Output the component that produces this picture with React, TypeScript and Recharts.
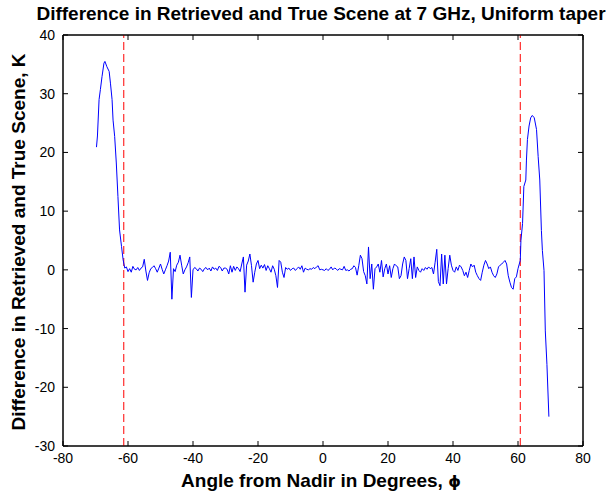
import React from 'react';
import { LineChart, Line, XAxis, YAxis, ReferenceLine, ReferenceArea } from 'recharts';

// [angle in degrees, difference in K]
const leftLobe: [number, number][] = [
  [-69.7, 20.9], [-69.4, 22.8], [-68.9, 29.0], [-68.5, 30.7], [-68.0, 32.9],
  [-67.4, 35.2], [-67.1, 35.5], [-66.5, 34.6], [-65.8, 33.8], [-65.4, 31.8],
  [-64.9, 29.0], [-64.6, 25.5], [-64.1, 22.7], [-63.6, 18.2], [-63.1, 12.5],
  [-62.6, 6.8], [-62.0, 4.0], [-61.5, 1.7],
];

const scanNoise: [number, number][] = [
  [-61.0, 0.3], [-60.5, 0.5], [-60.0, -0.3], [-59.5, 0.2], [-59.0, -0.4],
  [-58.5, 0.6], [-58.0, 0.1], [-57.5, 0.0], [-57.0, 0.4], [-56.5, -0.1],
  [-56.0, 0.3], [-55.5, 0.5], [-55.0, 1.8], [-54.5, -0.2], [-54.0, -1.8],
  [-53.5, -0.5], [-53.0, 0.2], [-52.5, 0.4], [-52.0, 0.7], [-51.5, 0.2],
  [-51.0, -0.4], [-50.5, 0.3], [-50.0, 1.0], [-49.5, 0.1], [-49.0, -0.7],
  [-48.5, 0.0], [-48.0, 0.7], [-47.5, 1.5], [-47.0, 3.0], [-46.5, -5.0],
  [-46.0, 0.2], [-45.5, -0.3], [-45.0, 0.8], [-44.5, 1.3], [-44.0, 2.5],
  [-43.5, 0.8], [-43.0, -0.7], [-42.5, 0.0], [-42.0, 0.5], [-41.5, 1.2],
  [-41.0, 2.2], [-40.5, -4.7], [-40.0, 0.0], [-39.5, 0.4], [-39.0, 0.2],
  [-38.5, -0.2], [-38.0, 0.3], [-37.5, 0.1], [-37.0, -0.3], [-36.5, 0.2],
  [-36.0, 0.4], [-35.5, 0.0], [-35.0, 0.3], [-34.5, -0.2], [-34.0, 0.5],
  [-33.5, 0.1], [-33.0, 0.3], [-32.5, -0.1], [-32.0, 0.6], [-31.5, 0.4],
  [-31.0, -0.2], [-30.5, 0.3], [-30.0, 0.3], [-29.5, 0.1], [-29.0, -0.7],
  [-28.5, 0.7], [-28.0, -0.4], [-27.5, 0.6], [-27.0, -0.1], [-26.5, 0.5],
  [-26.0, 0.2], [-25.5, -0.3], [-25.0, 1.0], [-24.5, 2.2], [-24.0, -3.8],
  [-23.5, 0.8], [-23.0, 1.5], [-22.5, 2.7], [-22.0, 0.7], [-21.5, -2.1],
  [-21.0, -0.4], [-20.5, 1.0], [-20.0, 1.6], [-19.5, 0.2], [-19.0, 0.8],
  [-18.5, 0.3], [-18.0, 0.9], [-17.5, -0.1], [-17.0, 0.7], [-16.5, 0.2],
  [-16.0, -0.4], [-15.5, 0.7], [-15.0, 0.1], [-14.5, -1.0], [-14.0, -3.0],
  [-13.5, 1.6], [-13.0, 1.3], [-12.5, -0.4], [-12.0, -1.3], [-11.5, 0.4],
  [-11.0, 0.1], [-10.5, 0.3], [-10.0, -0.1], [-9.5, 0.2], [-9.0, 0.3],
  [-8.5, -0.1], [-8.0, 0.2], [-7.5, 0.5], [-7.0, 0.1], [-6.5, 0.7],
  [-6.0, -0.4], [-5.5, 0.3], [-5.0, 0.1], [-4.5, 0.0], [-4.0, 0.2],
  [-3.5, 0.1], [-3.0, 0.4], [-2.5, 0.2], [-2.0, 0.5], [-1.5, 0.7],
  [-1.0, 0.0], [-0.5, 0.1], [0.0, 0.0], [0.5, -0.1], [1.0, 0.2],
  [1.5, -0.1], [2.0, 0.1], [2.5, 0.5], [3.0, 0.0], [3.5, 0.3],
  [4.0, 0.2], [4.5, -0.1], [5.0, 0.2], [5.5, 0.1], [6.0, 0.0],
  [6.5, 0.6], [7.0, -0.1], [7.5, 0.0], [8.0, -0.2], [8.5, 0.1],
  [9.0, 0.2], [9.5, 0.7], [10.0, 0.4], [10.5, -0.9], [11.0, 0.7],
  [11.5, 2.5], [12.0, 1.9], [12.5, -0.3], [13.0, -1.0], [13.5, -2.4],
  [14.0, 3.9], [14.5, -1.5], [15.0, 1.0], [15.5, -3.3], [16.0, 0.2],
  [16.5, 0.5], [17.0, 1.0], [17.5, -0.4], [18.0, 1.6], [18.5, -1.2],
  [19.0, 0.2], [19.5, 1.0], [20.0, -0.7], [20.5, 0.7], [21.0, -1.3],
  [21.5, 0.2], [22.0, 1.0], [22.5, 0.7], [23.0, 0.5], [23.5, -1.5],
  [24.0, -1.0], [24.5, 1.0], [25.0, 2.2], [25.5, 1.6], [26.0, -1.5],
  [26.5, 0.2], [27.0, 1.9], [27.5, -1.5], [28.0, 2.2], [28.5, -1.3],
  [29.0, 0.5], [29.5, -0.1], [30.0, -0.4], [30.5, 0.2], [31.0, -0.1],
  [31.5, 0.4], [32.0, 0.1], [32.5, 0.5], [33.0, 0.2], [33.5, 0.4],
  [34.0, -0.7], [34.5, 1.3], [35.0, 3.5], [35.5, -2.0], [36.0, -2.7],
  [36.5, 2.7], [37.0, -2.4], [37.5, 2.5], [38.0, -2.4], [38.5, 0.2],
  [39.0, 2.5], [39.5, 0.8], [40.0, -0.1], [40.5, -0.4], [41.0, 0.5],
  [41.5, -0.1], [42.0, 0.8], [42.5, 0.5], [43.0, -0.1], [43.5, -1.0],
  [44.0, -0.4], [44.5, -1.3], [45.0, -0.1], [45.5, 1.0], [46.0, 0.5],
  [46.5, 0.8], [47.0, -0.4], [47.5, -1.0], [48.0, -1.5], [48.5, -1.8],
  [49.0, -0.4], [49.5, 0.8], [50.0, 1.6], [50.5, 1.0], [51.0, 0.2],
  [51.5, 0.5], [52.0, -0.4], [52.5, -1.0], [53.0, -1.3], [53.5, -0.7],
  [54.0, 0.5], [54.5, 0.8], [55.0, 1.0], [55.5, 1.3], [56.0, 1.6],
  [56.5, 1.0], [57.0, -1.0], [57.5, -2.1], [58.0, -3.0], [58.5, -3.3],
  [59.0, -1.5], [59.5, -1.2], [60.0, 0.2],
];

const rightLobe: [number, number][] = [
  [60.7, 1.6], [60.9, 5.0], [61.4, 7.9], [61.8, 14.2], [62.4, 15.3],
  [62.6, 18.7], [62.9, 22.2], [63.4, 24.5], [63.9, 25.9], [64.4, 26.3],
  [65.0, 25.9], [65.7, 23.9], [66.2, 19.3], [66.7, 15.3], [67.2, 6.7],
  [67.5, 3.3], [68.0, -0.1], [68.4, -10.4], [68.9, -16.1], [69.5, -25.0],
];

const edgeAngles = [-61.3, 60.7];
const xDomain: [number, number] = [-80, 80];
const yDomain: [number, number] = [-30, 40];
const xTicks = [-80, -60, -40, -20, 0, 20, 40, 60, 80];
const yTicks = [-30, -20, -10, 0, 10, 20, 30, 40];

const titleText = 'Difference in Retrieved and True Scene at 7 GHz, Uniform taper';
const xLabelText = 'Angle from Nadir in Degrees, ';
const yLabelText = 'Difference in Retrieved and True Scene, K';

const data = [...leftLobe, ...scanNoise, ...rightLobe].map(([angle, diff]) => ({ angle, diff }));

const FONT = '"Liberation Sans", Arial, Helvetica, sans-serif';
const W = 610;
const H = 491;
const TICK_LEN = 5;

const BottomTick = (props: any) => {
  const { x, y, payload } = props;
  return (
    <g>
      <path d={`M${x},${y}V${y - TICK_LEN}`} stroke="#000" strokeWidth={1} fill="none" />
      <text x={x} y={y + 7} dy="0.71em" textAnchor="middle" fill="#000" fontSize={14} fontFamily={FONT}>
        {payload.value}
      </text>
    </g>
  );
};

const LeftTick = (props: any) => {
  const { x, y, payload } = props;
  return (
    <g>
      <path d={`M${x},${y}H${x + TICK_LEN}`} stroke="#000" strokeWidth={1} fill="none" />
      <text x={x - 8} y={y} dy="0.355em" textAnchor="end" fill="#000" fontSize={14} fontFamily={FONT}>
        {payload.value}
      </text>
    </g>
  );
};

export default function App() {
  return (
    <div style={{ position: 'absolute', left: 0, top: 0, width: W, height: H, background: '#fff' }}>
      <LineChart
        width={W}
        height={H}
        data={data}
        margin={{ top: 15, right: 7, bottom: 0, left: 0 }}
        style={{ fontFamily: FONT }}
      >
        <XAxis
          xAxisId="main"
          dataKey="angle"
          type="number"
          domain={xDomain}
          ticks={xTicks}
          interval={0}
          allowDataOverflow
          height={45}
          stroke="#000"
          tickLine={false}
          tickSize={0}
          tickMargin={0}
          tick={BottomTick}
        />
        <XAxis
          xAxisId="top"
          dataKey="angle"
          orientation="top"
          type="number"
          domain={xDomain}
          ticks={xTicks}
          interval={0}
          allowDataOverflow
          height={20}
          stroke="#000"
          tickSize={-TICK_LEN}
          tickFormatter={() => ''}
        />
        <YAxis
          yAxisId="main"
          dataKey="diff"
          type="number"
          domain={yDomain}
          ticks={yTicks}
          interval={0}
          allowDataOverflow
          width={63}
          stroke="#000"
          tickLine={false}
          tickSize={0}
          tickMargin={0}
          tick={LeftTick}
        />
        <YAxis
          yAxisId="right"
          dataKey="diff"
          orientation="right"
          type="number"
          domain={yDomain}
          ticks={yTicks}
          interval={0}
          allowDataOverflow
          width={20}
          stroke="#000"
          tickSize={-TICK_LEN}
          tickFormatter={() => ''}
        />
        <ReferenceArea
          xAxisId="main"
          yAxisId="main"
          x1={xDomain[0]}
          x2={xDomain[1]}
          y1={yDomain[0]}
          y2={yDomain[1]}
          fill="none"
          fillOpacity={0}
          stroke="#000"
          strokeWidth={1}
          strokeOpacity={1}
          ifOverflow="visible"
        />
        {edgeAngles.map((a) => (
          <ReferenceLine
            key={a}
            x={a}
            xAxisId="main"
            yAxisId="main"
            stroke="#ff0000"
            strokeDasharray="8 4"
            strokeWidth={1}
            ifOverflow="hidden"
          />
        ))}
        {/* binds the mirrored frame axes (top/right); paints nothing itself */}
        <Line
          xAxisId="top"
          yAxisId="right"
          dataKey="diff"
          type="linear"
          stroke="transparent"
          strokeWidth={1}
          dot={false}
          activeDot={false}
          legendType="none"
          isAnimationActive={false}
        />
        <Line
          xAxisId="main"
          yAxisId="main"
          dataKey="diff"
          type="linear"
          stroke="#0000ff"
          strokeWidth={1}
          dot={false}
          activeDot={false}
          isAnimationActive={false}
        />
      </LineChart>
      <svg
        width={W}
        height={H}
        style={{ position: 'absolute', left: 0, top: 0, pointerEvents: 'none' }}
      >
        <text x={321} y={20} textAnchor="middle" fontFamily={FONT} fontWeight="bold" fontSize={19} fill="#000">
          {titleText}
        </text>
        <text x={321} y={487} textAnchor="middle" fontFamily={FONT} fontWeight="bold" fontSize={19} fill="#000">
          {xLabelText}
          <tspan fontFamily='"DejaVu Sans", sans-serif' fontSize={16}>ϕ</tspan>
        </text>
        <text
          transform="translate(25,242) rotate(-90)"
          textAnchor="middle"
          fontFamily={FONT}
          fontWeight="bold"
          fontSize={19}
          fill="#000"
        >
          {yLabelText}
        </text>
      </svg>
    </div>
  );
}
